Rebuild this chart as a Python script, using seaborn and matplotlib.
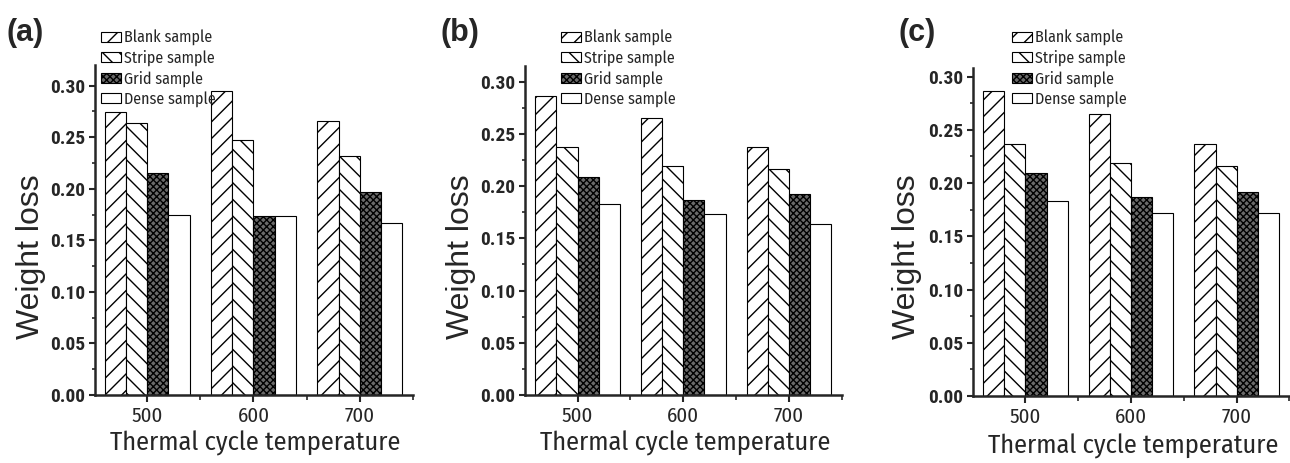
import numpy as np
import pandas as pd
import matplotlib
matplotlib.use("Agg")
import matplotlib.pyplot as plt
import seaborn as sns
from matplotlib.ticker import MultipleLocator, FixedLocator
from matplotlib.font_manager import FontProperties

# ---------------- data ----------------
temperatures = ["500", "600", "700"]
samples = ["Blank sample", "Stripe sample", "Grid sample", "Dense sample"]
panel_labels = ["(a)", "(b)", "(c)"]
ytick_values = [0, 0.05, 0.10, 0.15, 0.20, 0.25, 0.30]
ytick_labels = ["0.00", "0.05", "0.10", "0.15", "0.20", "0.25", "0.30"]

a_blank = [0.274, 0.295, 0.266]
a_stripe = [0.264, 0.247, 0.232]
a_grid = [0.215, 0.174, 0.197]
a_dense = [0.175, 0.174, 0.167]

b_blank = [0.286, 0.265, 0.237]
b_stripe = [0.237, 0.219, 0.216]
b_grid = [0.209, 0.187, 0.192]
b_dense = [0.183, 0.173, 0.164]

c_blank = [0.286, 0.265, 0.237]
c_stripe = [0.237, 0.219, 0.216]
c_grid = [0.209, 0.187, 0.192]
c_dense = [0.183, 0.172, 0.172]

panels = [
    [a_blank, a_stripe, a_grid, a_dense],
    [b_blank, b_stripe, b_grid, b_dense],
    [c_blank, c_stripe, c_grid, c_dense],
]

# ---------------- style ----------------
sns.set_theme(style="ticks")
COND = ["Fira Sans Condensed", "Roboto Condensed", "Liberation Sans"]
ARIAL = ["Liberation Sans", "DejaVu Sans"]
plt.rcParams["font.family"] = COND
plt.rcParams["hatch.linewidth"] = 1.0
plt.rcParams["axes.linewidth"] = 1.8

ytick_fp = FontProperties(family=["Roboto Condensed", "Fira Sans Condensed", "Liberation Sans"],
                          weight="bold", size=14)

W, H = 1290, 463
fig = plt.figure(figsize=(W / 100, H / 100), dpi=100)

# layout (pixels)
layout = [
    dict(l=95, r=413, b=395, t=65, xl=(-0.49, 2.5), ytop=0.320,
         leg=(101, 30), title=(6, 33), ylab=(31, 257), xlab=(255, 443)),
    dict(l=525, r=842, b=395, t=66, xl=(-0.497, 2.5), ytop=0.315,
         leg=(561, 30), title=(441, 33), ylab=(461, 257), xlab=(685, 443)),
    dict(l=973, r=1290, b=396, t=68, xl=(-0.497, 2.505), ytop=0.308,
         leg=(1012, 30), title=(899, 33), ylab=(907, 257), xlab=(1133, 446)),
]

styles = [
    dict(fc="white", hatch="//"),
    dict(fc="white", hatch="\\\\"),
    dict(fc="#6a6a6a", hatch="xxxxx"),
    dict(fc="white", hatch=""),
]

axes = []
for p, (vals, lay) in enumerate(zip(panels, layout)):
    df = pd.DataFrame({
        "Temperature": np.tile(temperatures, len(samples)),
        "Sample": np.repeat(samples, len(temperatures)),
        "Weight loss": np.concatenate(vals),
    })
    ax = fig.add_axes([lay["l"] / W, 1 - lay["b"] / H,
                       (lay["r"] - lay["l"]) / W, (lay["b"] - lay["t"]) / H])
    axes.append(ax)
    sns.barplot(data=df, x="Temperature", y="Weight loss", hue="Sample",
                order=temperatures, hue_order=samples, ax=ax, width=0.8,
                gap=0, errorbar=None, legend=False, saturation=1)
    handles = []
    for cont, st in zip(ax.containers, styles):
        for bar in cont:
            bar.set_facecolor(st["fc"])
            bar.set_edgecolor("black")
            bar.set_linewidth(0.8)
            bar.set_hatch(st["hatch"])
        handles.append(cont[0])

    ax.set_xlim(*lay["xl"])
    ax.set_ylim(0, lay["ytop"])
    sns.despine(ax=ax)
    ax.yaxis.set_minor_locator(MultipleLocator(0.025))
    ax.xaxis.set_minor_locator(FixedLocator([0.5, 1.5, 2.5]))
    ax.tick_params(axis="y", which="major", length=4, width=1.5, pad=3,
                   direction="out")
    ax.tick_params(axis="y", which="minor", length=2.5, width=1.2, direction="out")
    ax.tick_params(axis="x", which="major", length=5, width=1.5, pad=3,
                   labelsize=15, direction="out")
    ax.tick_params(axis="x", which="minor", length=3.5, width=1.2, direction="out")
    ax.set_yticks(ytick_values)
    ax.set_yticklabels(ytick_labels, fontproperties=ytick_fp)

    ax.set_ylabel("Weight loss", fontsize=23, family=ARIAL)
    ax.yaxis.set_label_coords(lay["ylab"][0] / W, 1 - lay["ylab"][1] / H,
                              transform=fig.transFigure)
    ax.set_xlabel("Thermal cycle temperature", fontsize=19)
    ax.xaxis.set_label_coords(lay["xlab"][0] / W, 1 - lay["xlab"][1] / H,
                              transform=fig.transFigure)
    ax.xaxis.label.set_va("center")
    ax.yaxis.label.set_va("center")

    fig.text(lay["title"][0] / W, 1 - lay["title"][1] / H, panel_labels[p],
             fontsize=22, fontweight="bold", family=ARIAL,
             ha="left", va="center")

    ax.legend(handles, samples, loc="upper left",
              bbox_to_anchor=(lay["leg"][0] / W, 1 - lay["leg"][1] / H),
              bbox_transform=fig.transFigure, frameon=False,
              fontsize=11.5, handlelength=1.25, handleheight=0.6,
              labelspacing=0.25, handletextpad=0.2, borderpad=0,
              borderaxespad=0)

for ax in axes:
    for lbl in ax.yaxis.get_majorticklabels():
        lbl.set_fontproperties(ytick_fp)

fig.savefig("out.png", dpi=100)
